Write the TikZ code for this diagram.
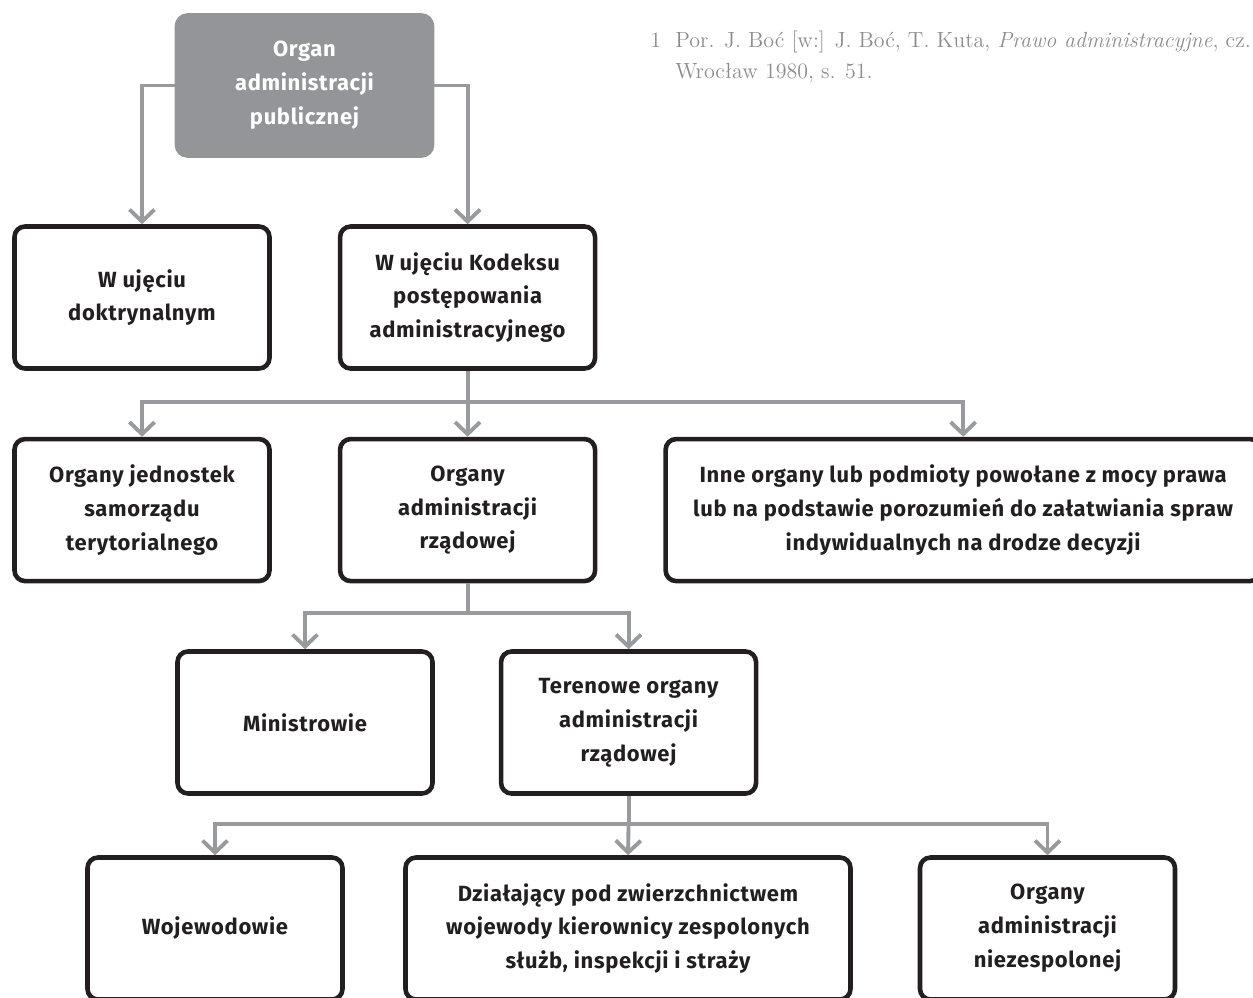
\documentclass[tikz,border=0pt]{standalone}
\usepackage{fontspec}
\setsansfont{Fira Sans}[LetterSpace=3]
\usepackage{tikz}
\usetikzlibrary{positioning,arrows.meta}
\definecolor{linegray}{HTML}{999A9D}
\definecolor{boxgray}{HTML}{939598}
\definecolor{ink}{HTML}{231F20}
\definecolor{notegray}{HTML}{8C8C8C}
\tikzset{
  organ/.style={draw=ink, line width=2.6pt, rounded corners=6pt, fill=white,
    minimum width=5.1cm, minimum height=2.84cm, align=center, text=ink,
    font=\sffamily\bfseries\fontsize{12.5}{19.3}\selectfont},
  rootbox/.style={organ, draw=boxgray, fill=boxgray, text=white},
  conn/.style={draw=linegray, line width=2.2pt},
  >={Straight Barb[length=2.4mm,width=5mm]},
}

\begin{document}
\begin{tikzpicture}[
  node distance=1.32cm,
  note/.style={anchor=base west, text=notegray, inner sep=0pt,
    font=\fontsize{12.5}{17.6}\selectfont}
]
\useasboundingbox (0,0) rectangle (25.06,-19.94);
\clip (0,0) rectangle (25.06,-19.94);

% footnote
\node[note] (fnum) at (13.0,-0.94) {1};
\node[note] (fline1) at (13.5,-0.94) {Por. J. Boć [w:] J. Boć, T. Kuta, \textit{Prawo administracyjne}, cz.};
\node[note] (fline2) at (13.5,-1.56) {Wrocław 1980, s. 51.};

% levels
\node[rootbox,minimum height=2.8cm] (top) at (6.09,-1.71) {Organ\\administracji\\publicznej};

\node[organ] (doktr) at (2.84,-5.95) {W ujęciu\\doktrynalnym};
\node[organ,right=of doktr] (kodeks) {W ujęciu Kodeksu\\postępowania\\administracyjnego};

\node[organ,below=of doktr] (samorz) {Organy jednostek\\samorządu\\terytorialnego};
\node[organ,below=of kodeks] (rzad) {Organy\\administracji\\rządowej};
\node[organ,right=of rzad,minimum width=11.9cm] (inne) {Inne organy lub podmioty powołane z mocy prawa\\lub na podstawie porozumień do załatwiania spraw\\indywidualnych na drodze decyzji};

\node[organ] (minis) at (6.1,-14.45) {Ministrowie};
\node[organ,right=1.28cm of minis] (teren) {Terenowe organy\\administracji\\rządowej};

\node[organ] (wojew) at (4.3,-18.57) {Wojewodowie};
\node[organ,minimum width=8.9cm] (dzial) at (12.56,-18.57) {Działający pod zwierzchnictwem\\wojewody kierownicy zespolonych\\służb, inspekcji i straży};
\node[organ] (niezesp) at (20.95,-18.57) {Organy\\administracji\\niezespolonej};

% branch points
\coordinate[below=0.62cm of kodeks] (s1);
\coordinate[below=0.6cm of rzad] (s2);
\coordinate[below=0.56cm of teren] (s3);

\draw[conn,->] (top.west) -| (doktr.north);
\draw[conn,->] (top.east) -| (kodeks.north);

\draw[conn] (kodeks.south) -- (s1);
\draw[conn,->] (s1) -| (samorz.north);
\draw[conn,->] (s1) -- (rzad.north);
\draw[conn,->] (s1) -| (inne.north);

\draw[conn] (rzad.south) -- (s2);
\draw[conn,->] (s2) -| (minis.north);
\draw[conn,->] (s2) -| (teren.north);

\draw[conn] (teren.south) -- (s3);
\draw[conn,->] (s3) -| (wojew.north);
\draw[conn,->] (s3) -- (dzial.north);
\draw[conn,->] (s3) -| (niezesp.north);

\end{tikzpicture}
\end{document}
